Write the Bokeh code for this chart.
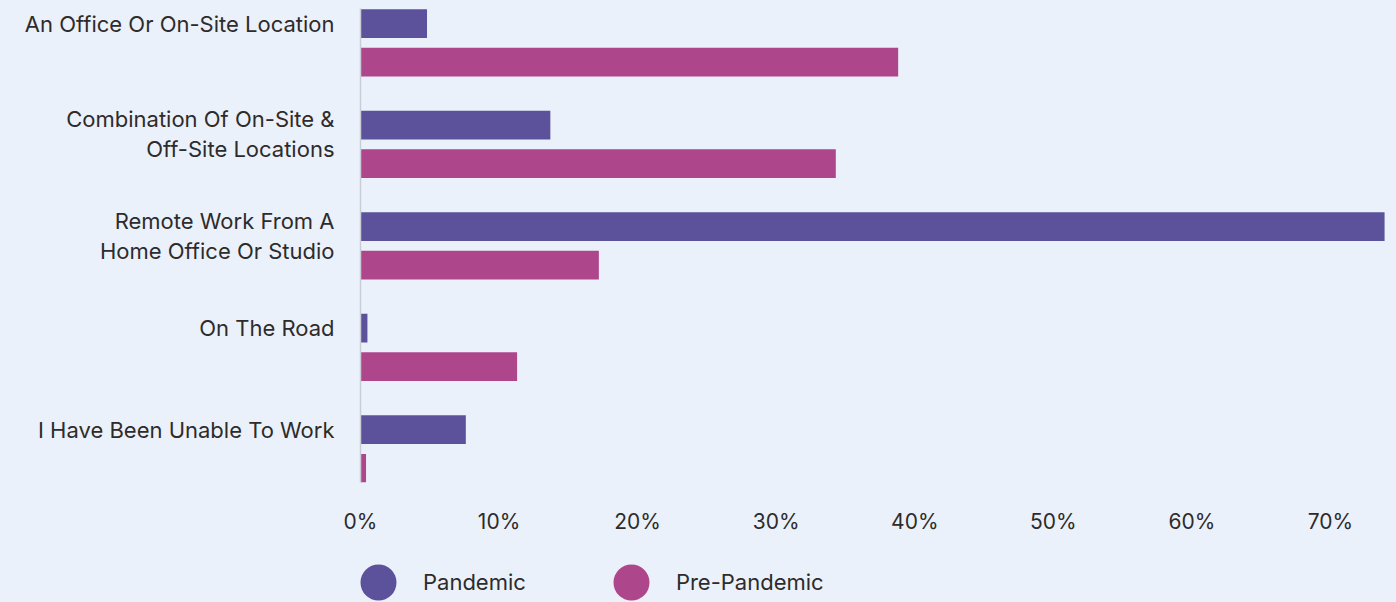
from bokeh.plotting import figure
from bokeh.layouts import column
from bokeh.models import ColumnDataSource, Range1d, FixedTicker, Legend, LegendItem
from bokeh.transform import dodge
from bokeh.embed import file_html
from bokeh.resources import INLINE

# Work location survey: share of respondents (%)
categories = [
    "An Office Or On-Site Location",
    "Combination Of On-Site &\nOff-Site Locations",
    "Remote Work From A\nHome Office Or Studio",
    "On The Road",
    "I Have Been Unable To Work",
]
pandemic = [4.8, 13.7, 73.9, 0.5, 7.6]
pre_pandemic = [38.8, 34.3, 17.2, 11.3, 0.4]
x_ticks = [0, 10, 20, 30, 40, 50, 60, 70]
series_names = ["Pandemic", "Pre-Pandemic"]

PURPLE = "#5C529B"
PINK = "#AE468C"
BG = "#EBF1FA"
TEXT = "#2E2B2B"
FONT = "Inter"

idx = list(range(len(categories)))
src = ColumnDataSource(dict(idx=idx, pandemic=pandemic, pre=pre_pandemic))

p = figure(width=1396, height=548, output_backend="svg", toolbar_location=None,
           x_range=Range1d(0, 74.76), y_range=Range1d(4.330, -0.338),
           min_border_left=360, min_border_right=0, min_border_top=8,
           min_border_bottom=66, styles={"background-color": BG})
p.background_fill_color = BG
p.border_fill_color = BG
p.outline_line_color = None
p.grid.visible = False

BAR_H = 0.283
OFF = 0.19
p.hbar(y=dodge("idx", -OFF), right="pandemic", left=0, height=BAR_H,
       source=src, fill_color=PURPLE, line_color=None)
p.hbar(y=dodge("idx", OFF), right="pre", left=0, height=BAR_H,
       source=src, fill_color=PINK, line_color=None)

# x axis: percentage labels only
xa = p.xaxis[0]
xa.ticker = FixedTicker(ticks=x_ticks)
xa.major_label_overrides = {t: f"{t}%" for t in x_ticks}
xa.axis_line_color = None
xa.major_tick_line_color = None
xa.minor_tick_line_color = None
xa.major_label_standoff = 20
xa.major_label_text_font = FONT
xa.major_label_text_font_size = "21px"
xa.major_label_text_color = TEXT

# y axis: category names next to the first bar of each group
ya = p.yaxis[0]
label_pos = [i - OFF + (0.09 if "\n" in c else 0.0) for i, c in enumerate(categories)]
ya.ticker = FixedTicker(ticks=label_pos)
ya.major_label_overrides = {pos: c for pos, c in zip(label_pos, categories)}
ya.axis_line_color = "#C9CDD6"
ya.axis_line_width = 1.5
ya.major_tick_line_color = None
ya.minor_tick_line_color = None
ya.major_label_standoff = 20
ya.major_label_text_font = FONT
ya.major_label_text_font_size = "22px"
ya.major_label_text_color = TEXT
ya.major_label_text_line_height = 1.15

# legend strip below the chart with round markers
lg = figure(width=1396, height=54, output_backend="svg", toolbar_location=None,
            x_range=Range1d(1, 2), y_range=Range1d(1, 2),
            x_axis_location=None, y_axis_location=None,
            min_border_left=0, min_border_right=0, min_border_top=0,
            min_border_bottom=0, styles={"background-color": BG})
lg.background_fill_color = BG
lg.border_fill_color = BG
lg.outline_line_color = None
lg.grid.visible = False
# marker renderers that only feed the legend (their point lies outside the view)
d1 = lg.scatter([0], [0], marker="circle", fill_color=PURPLE, line_color=None)
d2 = lg.scatter([0], [0], marker="circle", fill_color=PINK, line_color=None)
legend = Legend(items=[LegendItem(label=series_names[0], renderers=[d1]),
                       LegendItem(label=series_names[1], renderers=[d2])],
                orientation="horizontal", location=(-27, -25),
                glyph_width=90, glyph_height=90, label_standoff=0, spacing=60,
                padding=0, margin=0, border_line_color=None,
                background_fill_alpha=0, label_text_font=FONT,
                label_text_font_size="22px", label_text_color=TEXT)
lg.add_layout(legend, "center")

layout = column(p, lg, spacing=0, styles={"background-color": BG})
open("out.html", "w").write(file_html(layout, INLINE))
